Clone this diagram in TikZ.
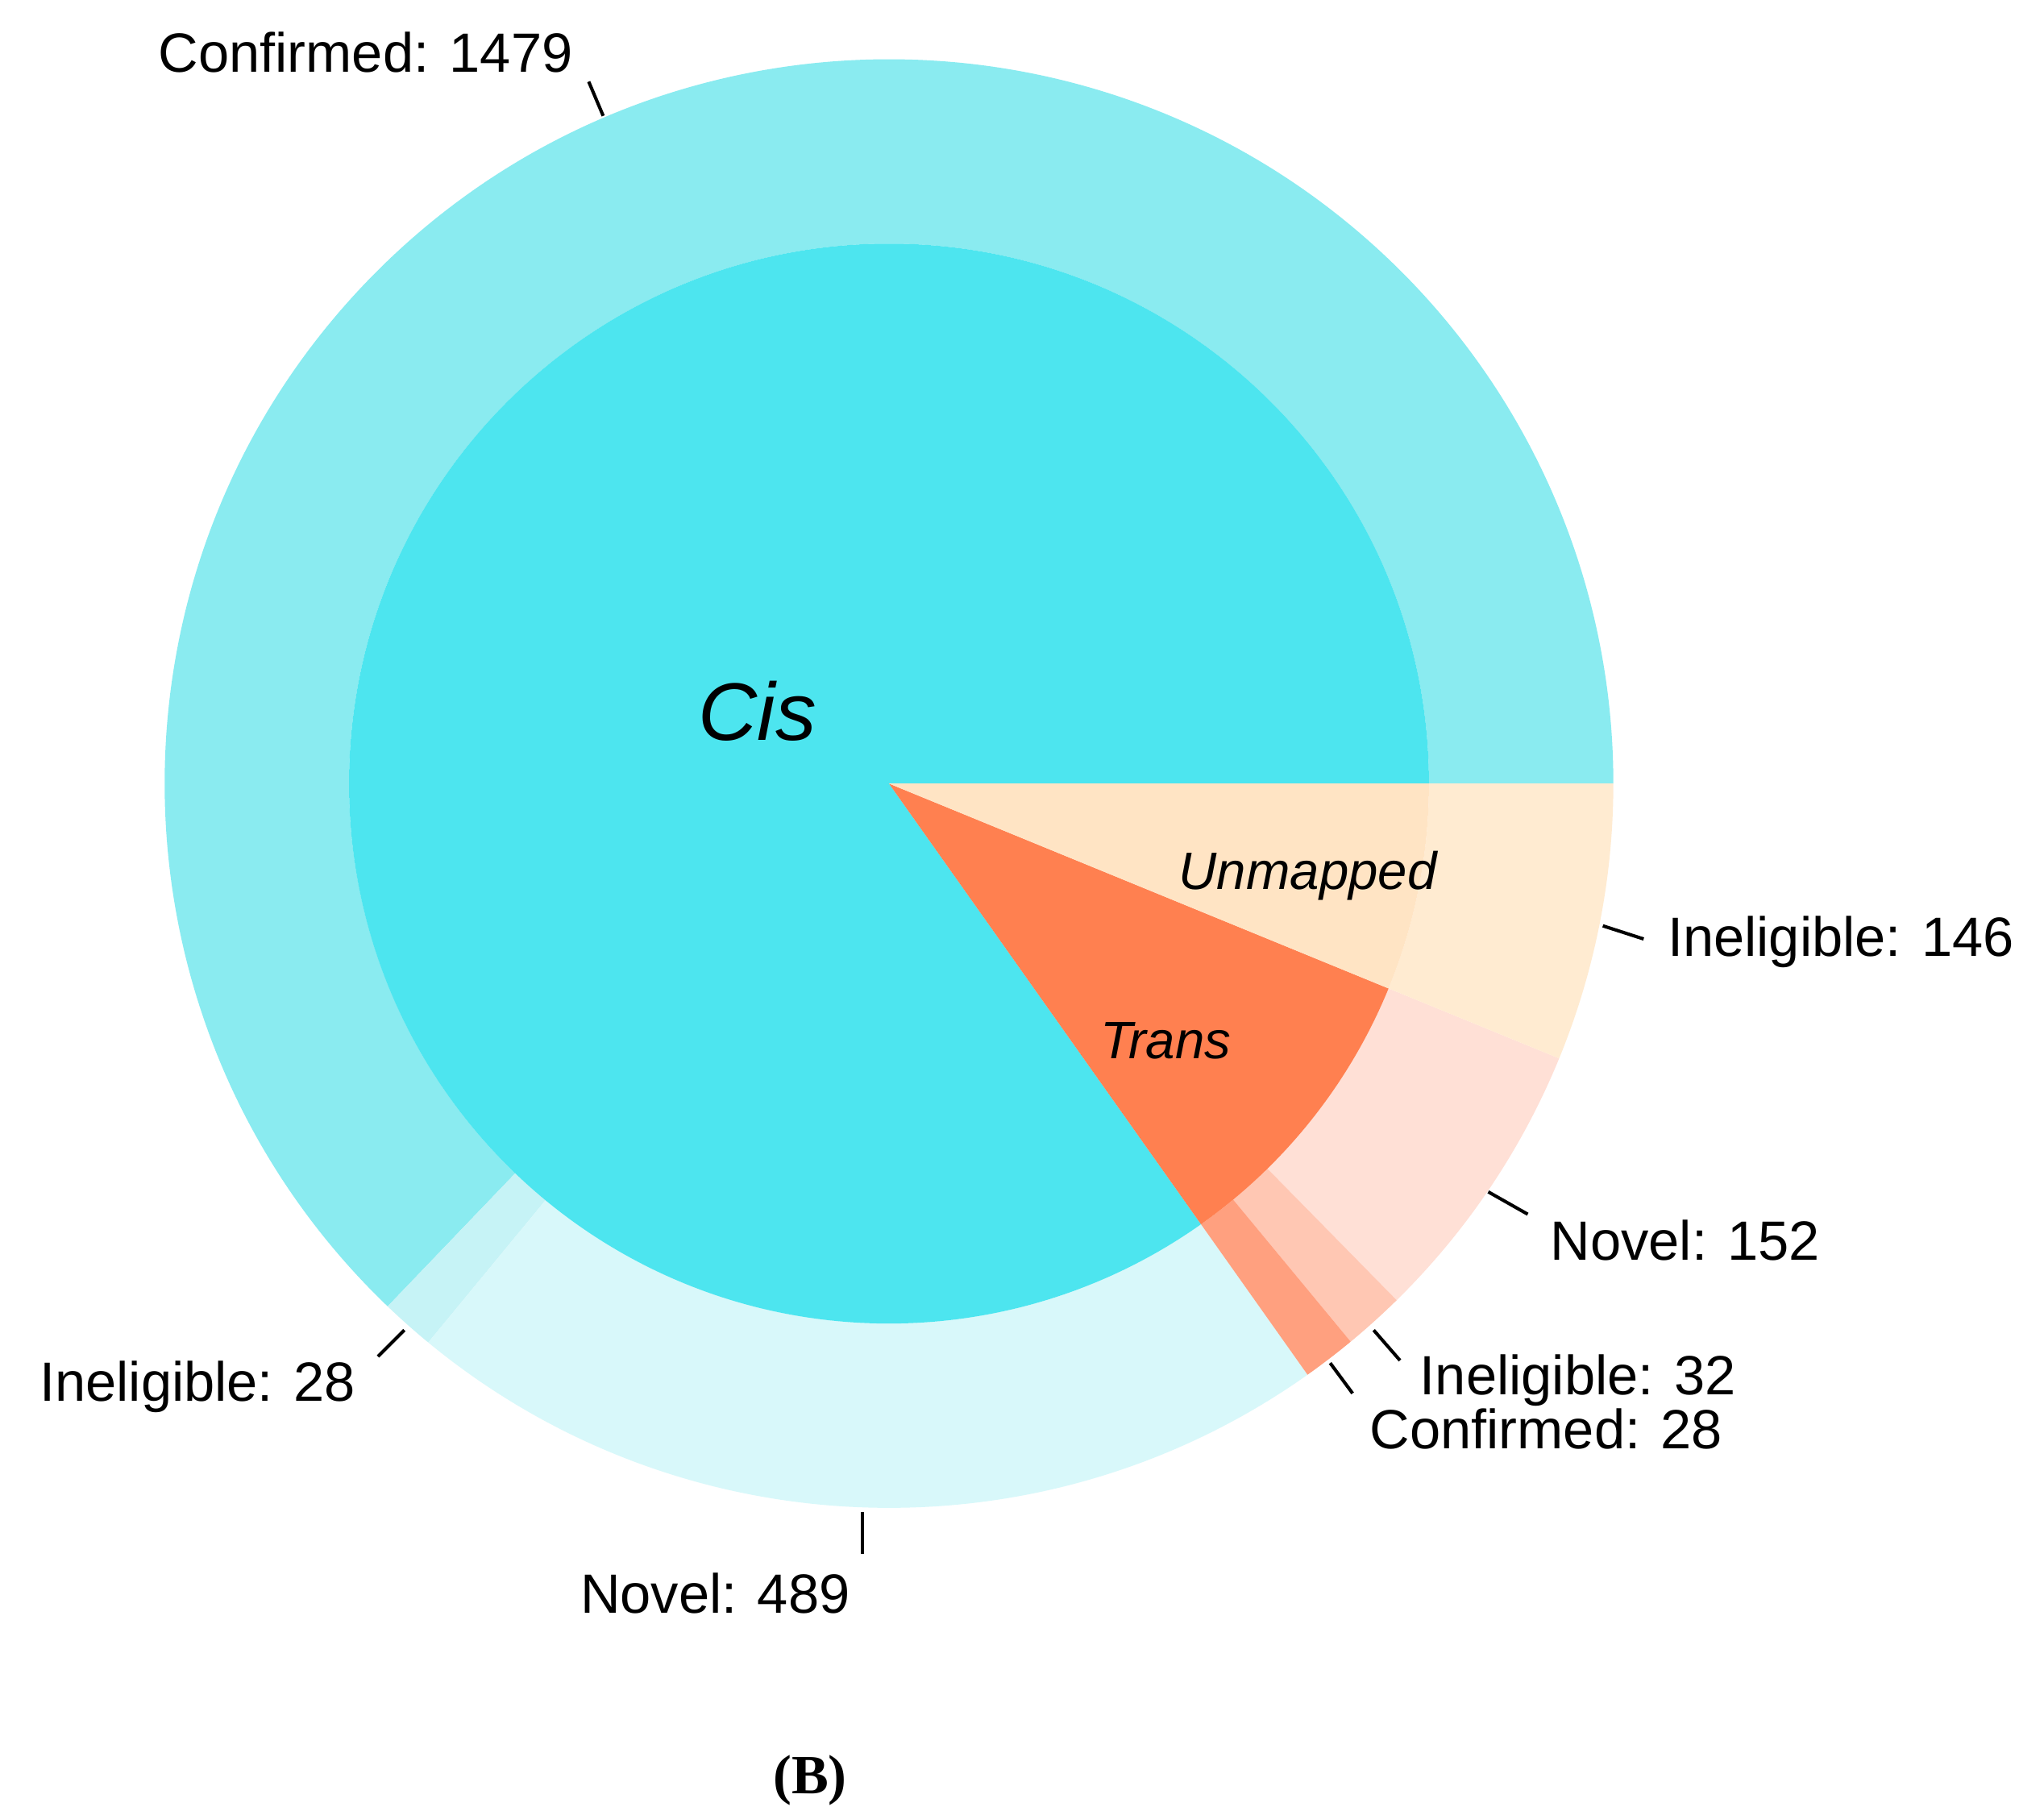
\documentclass[tikz,border=0pt]{standalone}
\usepackage{fontspec}
\setmainfont{Liberation Sans}
\newfontfamily\timesf{Liberation Serif}
\definecolor{cisin}{HTML}{4DE5EF}
\definecolor{cisconf}{HTML}{8AEBF0}
\definecolor{cisinel}{HTML}{C6F3F6}
\definecolor{cisnov}{HTML}{D8F8FA}
\definecolor{trin}{HTML}{FF8050}
\definecolor{trnov}{HTML}{FFE0D6}
\definecolor{trinel}{HTML}{FFC7B3}
\definecolor{trconf}{HTML}{FFA07F}
\definecolor{unin}{HTML}{FFE4C4}
\definecolor{unout}{HTML}{FFEBD1}
\tikzset{lab/.style={font=\fontsize{42}{42}\selectfont, inner sep=0pt},
 tick/.style={line width=2.5pt, black}}
\newcommand{\ring}[3]{\fill[#3] (675,780) ++(#1:410) arc[start angle=#1,end angle=#2,radius=410] -- ++(#2:140) arc[start angle=#2,end angle=#1,radius=550] -- cycle;}
\newcommand{\wedgeg}[3]{\fill[#3] (675,780) -- ++(#1:410) arc[start angle=#1,end angle=#2,radius=410] -- cycle;}
\begin{document}
\begin{tikzpicture}[x=1pt,y=1pt]
\useasboundingbox[fill=white] (0,0) rectangle (1552,1375);
\ring{0}{226.2}{cisconf}
\ring{226.2}{230.5}{cisinel}
\ring{230.5}{305.3}{cisnov}
\ring{-22.3}{-45.5}{trnov}
\ring{-45.5}{-50.4}{trinel}
\ring{-50.4}{-54.7}{trconf}
\ring{0}{-22.3}{unout}
\wedgeg{0}{305.3}{cisin}
\wedgeg{-22.3}{-54.7}{trin}
\wedgeg{0}{-22.3}{unin}
\node[font=\fontsize{62}{62}\selectfont\itshape] (cis) at (575,835) {Cis};
\node[lab,font=\fontsize{40}{40}\selectfont\itshape] (unm) at (993,710) {Unmapped};
\node[lab,font=\fontsize{40}{40}\selectfont\itshape] (tra) at (885,585) {Trans};
\node[lab,anchor=east] (l1) at (435,1335) {Confirmed: 1479};
\node[lab,anchor=west] (l2) at (1266,660) {Ineligible: 146};
\node[lab,anchor=west] (l3) at (1177,433) {Novel: 152};
\node[lab,anchor=west] (l4) at (1078,327) {Ineligible: 32};
\node[lab,anchor=west] (l5) at (1040,290) {Confirmed: 28};
\node[lab,anchor=east] (l6) at (270,322) {Ineligible: 28};
\node[lab] (l7) at (543,165) {Novel: 489};
\node[font=\timesf\bfseries\fontsize{42}{42}\selectfont] (b) at (615,23) {(B)};
\coordinate (t1a) at (447,1313); \coordinate (t1b) at (458,1287);
\coordinate (t2a) at (1217,672); \coordinate (t2b) at (1248,662);
\coordinate (t3a) at (1130,470); \coordinate (t3b) at (1160,453);
\coordinate (t4a) at (1043,365); \coordinate (t4b) at (1063,342);
\coordinate (t5a) at (1010,340); \coordinate (t5b) at (1027,317);
\coordinate (t6a) at (307,365); \coordinate (t6b) at (287,345);
\coordinate (t7a) at (655,227); \coordinate (t7b) at (655,195);
\foreach \i in {1,...,7} {\draw[tick] (t\i a) -- (t\i b);}
\end{tikzpicture}
\end{document}
